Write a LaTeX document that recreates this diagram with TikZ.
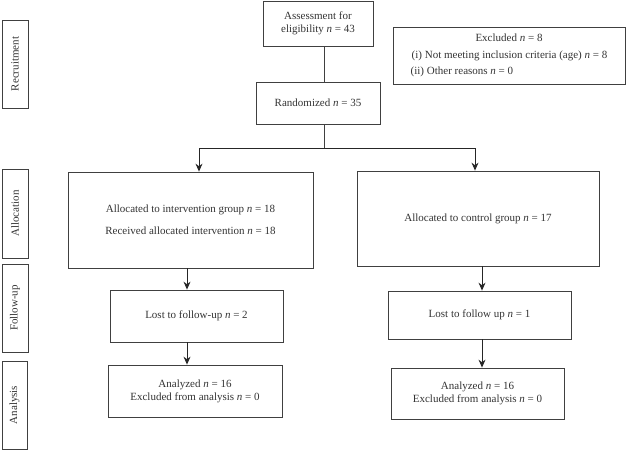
\documentclass[tikz,border=0pt]{standalone}
\usepackage{fontspec}
\setmainfont{Liberation Serif}
\usetikzlibrary{arrows.meta}

\tikzset{
  stagebox/.style={draw=black!75,line width=0.8pt,rotate=90,inner sep=0pt,
    text=black!80,font=\fontsize{11}{13}\selectfont},
  flowbox/.style={draw=black!75,line width=0.8pt,inner sep=2pt,align=center,
    text=black!80,font=\fontsize{11}{13}\selectfont},
  flowline/.style={line width=0.8pt,draw=black!75},
  flowarrow/.style={line width=1pt,draw=black!85,-{Stealth[length=8pt,width=7pt]}}
}

\begin{document}
\begin{tikzpicture}[x=1pt,y=-1pt]
\useasboundingbox (0,0) rectangle (626,450);
% stages on the left
\node[stagebox,minimum width=88,minimum height=26] (recruit) at (15,64) {Recruitment};
\node[stagebox,minimum width=89,minimum height=26] (alloc) at (15,213.5) {Allocation};
\node[stagebox,minimum width=88,minimum height=26] (follow) at (15,308) {Follow-up};
\node[stagebox,minimum width=88,minimum height=25] (analysis) at (14.5,405) {Analysis};
% enrolment
\node[flowbox,minimum width=110,minimum height=45] (assess) at (318,23.5) {Assessment for\\eligibility \textit{n}~=~43};
\node[flowbox,minimum width=124,minimum height=42] (rand) at (318,103) {Randomized \textit{n}~=~35};
\node[flowbox,minimum width=232,minimum height=57] (excl) at (509,55.5)
  {\begin{tabular}{@{}l@{}}
   \multicolumn{1}{c}{Excluded \textit{n}~=~8}\\[4pt]
   \hspace{1pt}(i) Not meeting inclusion criteria (age) \textit{n}~=~8\\[3pt]
   (ii) Other reasons \textit{n}~=~0
   \end{tabular}};
% two arms
\node[flowbox,minimum width=245,minimum height=96] (allocL) at (190.5,220)
  {Allocated to intervention group \textit{n}~=~18\\[9pt]Received allocated intervention \textit{n}~=~18};
\node[flowbox,minimum width=242,minimum height=95] (allocR) at (478,218.5) {Allocated to control group \textit{n}~=~17};
\node[flowbox,minimum width=173,minimum height=52] (followL) at (196.5,316) {Lost to follow-up \textit{n}~=~2};
\node[flowbox,minimum width=183,minimum height=48] (followR) at (479.5,315) {Lost to follow up \textit{n}~=~1};
\node[flowbox,minimum width=174,minimum height=52] (anaL) at (195,391) {Analyzed \textit{n}~=~16\\Excluded from analysis \textit{n}~=~0};
\node[flowbox,minimum width=173,minimum height=51] (anaR) at (477.5,393.5) {Analyzed \textit{n}~=~16\\Excluded from analysis \textit{n}~=~0};
% connectors
\coordinate (trunk) at (324,148);
\coordinate (armL) at (199,148);
\coordinate (armR) at (475,148);
\coordinate (downL) at (187,0);
\coordinate (downR) at (482,0);
\draw[flowline] (assess.south -| trunk) -- (rand.north -| trunk);
\draw[flowline] (rand.south -| trunk) -- (trunk);
\draw[flowarrow] (trunk) -| (allocL.north -| armL);
\draw[flowarrow] (trunk) -| (allocR.north -| armR);
\draw[flowarrow] (allocL.south -| downL) -- (followL.north -| downL);
\draw[flowarrow] (followL.south -| downL) -- (anaL.north -| downL);
\draw[flowarrow] (allocR.south -| downR) -- (followR.north -| downR);
\draw[flowarrow] (followR.south -| downR) -- (anaR.north -| downR);
\end{tikzpicture}
\end{document}
